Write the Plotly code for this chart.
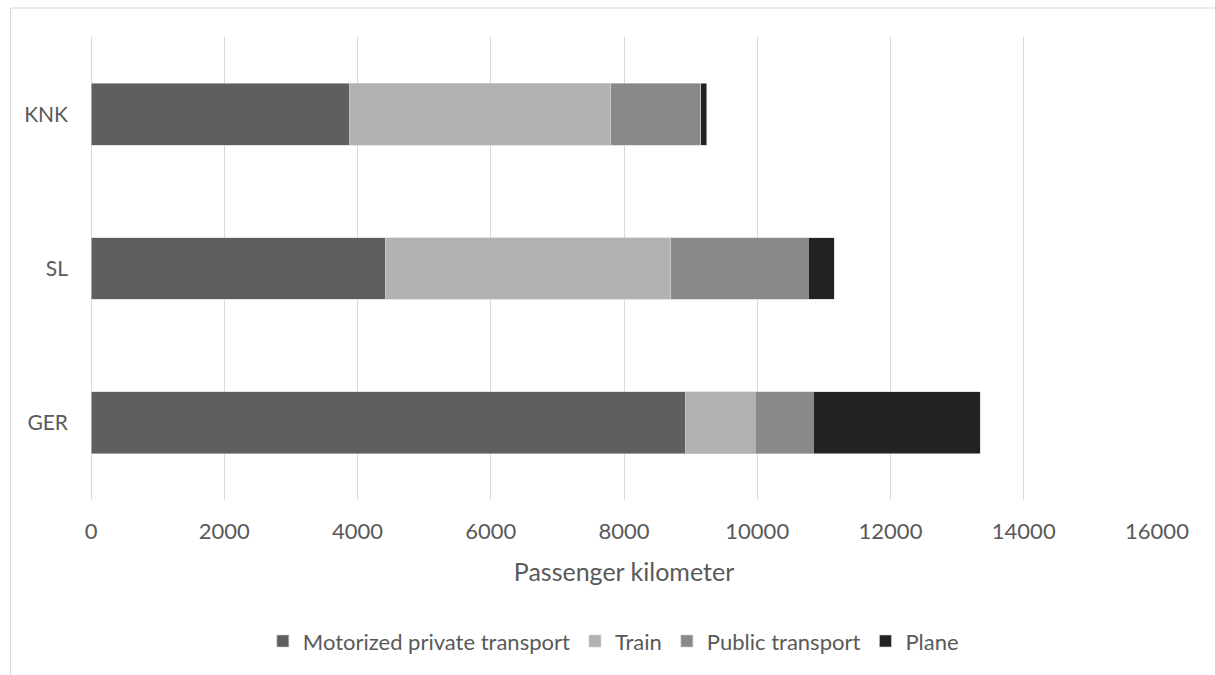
import plotly.graph_objects as go

# Passenger kilometres per person, split by mode of transport
regions = ["GER", "SL", "KNK"]
motorized = [8919, 4418, 3883]
train = [1050, 4286, 3921]
public = [875, 2060, 1345]
plane = [2501, 395, 95]

series = [
    ("Motorized private transport", motorized, "#5f5f5f"),
    ("Train", train, "#b2b2b2"),
    ("Public transport", public, "#898989"),
    ("Plane", plane, "#222222"),
]

text_color = "#595959"
grid_color = "#d9d9d9"
font_family = "Lato, 'Open Sans', sans-serif"
label_size = 22
title_size = 25

fig = go.Figure()
for name, values, color in series:
    fig.add_trace(go.Bar(
        y=regions,
        x=values,
        name=name,
        orientation="h",
        width=0.4,
        marker=dict(color=color, line=dict(color="#d0d0d0", width=0.6)),
        hoverinfo="x+y+name",
    ))

# Outer chart frame: only the top and left edges fall inside the page
plot_l, plot_r, plot_t, plot_b = 90.5, 1157, 37, 500
pw, ph = plot_r - plot_l, plot_b - plot_t
frame_x = (10 - plot_l) / pw
frame_y = 1 + (plot_t - 8) / ph
frame_line = dict(color=grid_color, width=1.2)
fig.add_shape(type="line", xref="paper", yref="paper",
              x0=frame_x, x1=1.2, y0=frame_y, y1=frame_y,
              line=frame_line, layer="below")
fig.add_shape(type="line", xref="paper", yref="paper",
              x0=frame_x, x1=frame_x, y0=frame_y, y1=-0.5,
              line=frame_line, layer="below")

fig.update_layout(
    width=1215, height=675,
    barmode="stack",
    plot_bgcolor="white", paper_bgcolor="white",
    margin=dict(l=plot_l, r=1215 - plot_r, t=plot_t, b=675 - plot_b, autoexpand=False),
    font=dict(family=font_family, size=label_size, color=text_color),
    xaxis=dict(
        range=[0, 16000], tick0=0, dtick=2000, tickformat="d",
        showgrid=True, gridcolor=grid_color, gridwidth=1.2,
        zeroline=True, zerolinecolor=grid_color, zerolinewidth=1.2,
        showline=False, ticks="", ticklabelstandoff=16,
        tickfont=dict(size=label_size, color=text_color),
        title=dict(text="Passenger kilometer", font=dict(size=title_size, color=text_color), standoff=20),
        fixedrange=True,
    ),
    yaxis=dict(
        categoryorder="array", categoryarray=regions,
        showgrid=False, zeroline=False, showline=False, ticks="",
        ticklabelstandoff=22,
        tickfont=dict(size=label_size - 1, color=text_color),
        fixedrange=True,
    ),
    legend=dict(
        orientation="h", x=0.49, xanchor="center", y=-0.305, yanchor="middle",
        traceorder="normal", font=dict(size=label_size, color=text_color),
        itemwidth=30,
    ),
    showlegend=True,
)

fig.write_html("out.html")
